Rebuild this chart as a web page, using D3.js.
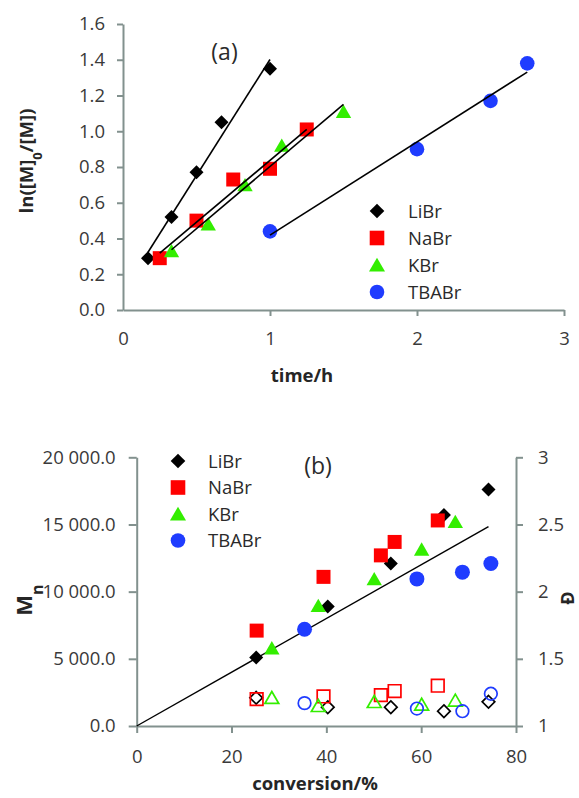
<!DOCTYPE html>
<html><head><meta charset="utf-8">
<script src="https://cdn.jsdelivr.net/npm/d3@7"></script>
<style>
html,body{margin:0;padding:0;background:#fff;}
text{font-family:"Open Sans",sans-serif;}
</style></head>
<body>
<svg id="chart" width="579" height="798"></svg>
<script>
// ---------- DATA ----------
const seriesNames = ["LiBr", "NaBr", "KBr", "TBABr"];
// (a) kinetics
const timeLiBr = [0.17, 0.33, 0.5, 0.67, 1.0];
const lnLiBr   = [0.29, 0.52, 0.77, 1.05, 1.35];
const timeNaBr = [0.25, 0.5, 0.75, 1.0, 1.25];
const lnNaBr   = [0.29, 0.50, 0.73, 0.79, 1.01];
const timeKBr  = [0.33, 0.58, 0.83, 1.08, 1.5];
const lnKBr    = [0.33, 0.48, 0.70, 0.92, 1.11];
const timeTBABr = [1.0, 2.0, 2.5, 2.75];
const lnTBABr   = [0.44, 0.90, 1.17, 1.38];
const topXTicks = [0, 1, 2, 3];
const topYTicks = [0, 0.2, 0.4, 0.6, 0.8, 1.0, 1.2, 1.4, 1.6];
// (b) Mn and dispersity vs conversion
const convLiBr = [25.2, 40.3, 53.6, 64.8, 74.2];
const mnLiBr   = [5100, 8900, 12100, 15700, 17600];
const dispLiBr = [1.21, 1.14, 1.14, 1.11, 1.18];
const convNaBr = [25.3, 39.4, 51.5, 54.4, 63.5];
const mnNaBr   = [7100, 11100, 12700, 13700, 15300];
const dispNaBr = [1.20, 1.22, 1.23, 1.26, 1.30];
const convKBr  = [28.5, 38.3, 50.1, 60.1, 67.2];
const mnKBr    = [5800, 8950, 10950, 13150, 15200];
const dispKBr  = [1.21, 1.15, 1.18, 1.16, 1.19];
const convTBABr = [35.4, 59.1, 68.7, 74.7];
const mnTBABr   = [7200, 10950, 11450, 12100];
const dispTBABr = [1.17, 1.13, 1.11, 1.24];
const theoryConv = [0, 74.2];
const theoryMn   = [0, 14840];
const botXTicks = [0, 20, 40, 60, 80];
const botYTicks = [0, 5000, 10000, 15000, 20000];
const botY2Ticks = [1, 1.5, 2, 2.5, 3];

// ---------- STYLE ----------
const colors = {LiBr:"#000000", NaBr:"#ff0000", KBr:"#33ee00", TBABr:"#1f3cff"};
const shapes = {LiBr:"diamond", NaBr:"square", KBr:"triangle", TBABr:"circle"};
const axisColor = "#82918e";
const tickColor = "#3a3a3a";

function markerPath(shape, s){
  switch(shape){
    case "diamond": return `M0,${-s}L${s},0L0,${s}L${-s},0Z`;
    case "square": return `M${-s},${-s}H${s}V${s}H${-s}Z`;
    case "triangle": return `M0,${-s}L${s*1.1},${s*0.9}L${-s*1.1},${s*0.9}Z`;
    default: return `M${s},0A${s},${s} 0 1,1 ${-s},0A${s},${s} 0 1,1 ${s},0Z`;
  }
}
function regression(xs, ys){
  const mx = d3.mean(xs), my = d3.mean(ys);
  let sxx=0, sxy=0;
  xs.forEach((x,i)=>{ sxx += (x-mx)*(x-mx); sxy += (x-mx)*(ys[i]-my); });
  const b = sxy/sxx, a = my - b*mx;
  const x0 = d3.min(xs), x1 = d3.max(xs);
  return [[x0, a+b*x0],[x1, a+b*x1]];
}

const svg = d3.select("#chart");

function styleAxis(g, fontSize){
  g.select(".domain").attr("stroke", axisColor).attr("stroke-width", 2);
  g.selectAll(".tick line").attr("stroke", axisColor).attr("stroke-width", 2);
  g.selectAll(".tick text").attr("fill", tickColor).style("font-size", fontSize+"px")
    .style("font-family", "'Open Sans', sans-serif");
}

// ================= (a) =================
const xA = d3.scaleLinear().domain([0,3]).range([123,564]);
const yA = d3.scaleLinear().domain([0,1.6]).range([310,24]);

const gA = svg.append("g");
const axAy = gA.append("g").attr("transform",`translate(${xA(0)},0)`)
  .call(d3.axisLeft(yA).tickValues(topYTicks).tickFormat(d3.format(".1f")).tickSize(6).tickSizeOuter(0).tickPadding(12));
styleAxis(axAy, 18.5);
const axAx = gA.append("g").attr("transform",`translate(0,${yA(0)})`)
  .call(d3.axisBottom(xA).tickValues(topXTicks).tickFormat(d3.format("d")).tickSize(6).tickSizeOuter(0).tickPadding(16));
styleAxis(axAx, 18.5);
axAx.selectAll(".tick").filter(d=>d===0).select("line").remove();

const topData = {
  LiBr: [timeLiBr, lnLiBr], NaBr: [timeNaBr, lnNaBr],
  KBr: [timeKBr, lnKBr], TBABr: [timeTBABr, lnTBABr]
};
seriesNames.forEach(name=>{
  const [xs, ys] = topData[name];
  gA.append("g").selectAll("path").data(xs.map((x,i)=>[x,ys[i]])).join("path")
    .attr("transform", d=>`translate(${xA(d[0])},${yA(d[1])})`)
    .attr("d", markerPath(shapes[name], shapes[name]==="circle"?7.3:7))
    .attr("fill", colors[name]);
});
const lineA = d3.line().x(d=>xA(d[0])).y(d=>yA(d[1]));
seriesNames.forEach(name=>{
  const [xs, ys] = topData[name];
  gA.append("path").attr("d", lineA(regression(xs, ys)))
    .attr("stroke","#000").attr("stroke-width",1.6).attr("fill","none");
});

gA.append("text").attr("x",224.5).attr("y",60).attr("text-anchor","middle")
  .style("font-size","23px").attr("fill","#2a2a2a").text("(a)");

// y title
const tA = gA.append("text").attr("transform","translate(33,161) rotate(-90)")
  .attr("text-anchor","middle").style("font-size","18.5px").style("font-weight","bold").attr("fill","#262626");
tA.append("tspan").text("ln([M]");
tA.append("tspan").attr("baseline-shift","sub").style("font-size","13px").text("0");
tA.append("tspan").text("/[M])");
gA.append("text").attr("x",302).attr("y",382).attr("text-anchor","middle")
  .style("font-size","18.5px").style("font-weight","bold").attr("fill","#262626").text("time/h");

// legend (a)
const legA = gA.append("g");
seriesNames.forEach((name,i)=>{
  const y = 211 + i*27;
  legA.append("path").attr("transform",`translate(377,${y})`)
    .attr("d", markerPath(shapes[name], 7.3)).attr("fill", colors[name]);
  legA.append("text").attr("x",408).attr("y",y).attr("dy","0.36em")
    .style("font-size","18.5px").attr("fill","#2a2a2a").text(name);
});

// ================= (b) =================
const xB = d3.scaleLinear().domain([0,80]).range([136.7,516]);
const yB = d3.scaleLinear().domain([0,20000]).range([726,457.3]);
const yD = d3.scaleLinear().domain([1,3]).range([726,457.3]);
const locale = d3.formatLocale({decimal:".", thousands:"\u00a0", grouping:[3], currency:["",""]});
const fmtMn = locale.format(",.1f");

const gB = svg.append("g");
const axBy = gB.append("g").attr("transform",`translate(${xB(0)},0)`)
  .call(d3.axisLeft(yB).tickValues(botYTicks).tickFormat(fmtMn).tickSize(8).tickSizeOuter(0).tickPadding(13));
styleAxis(axBy, 18.5);
const axBy2 = gB.append("g").attr("transform",`translate(${xB(80)},0)`)
  .call(d3.axisRight(yD).tickValues(botY2Ticks).tickFormat(d=>String(d)).tickSize(7).tickSizeOuter(0).tickPadding(15));
styleAxis(axBy2, 18.5);
const axBx = gB.append("g").attr("transform",`translate(0,${yB(0)})`)
  .call(d3.axisBottom(xB).tickValues(botXTicks).tickFormat(d3.format("d")).tickSize(7).tickSizeOuter(0).tickPadding(17));
styleAxis(axBx, 18.5);

// theory line
const lineB = d3.line().x(d=>xB(d[0])).y(d=>yB(d[1]));
gB.append("path").attr("d", lineB(theoryConv.map((c,i)=>[c, theoryMn[i]])))
  .attr("stroke","#000").attr("stroke-width",1.4).attr("fill","none");

const botData = {
  LiBr: [convLiBr, mnLiBr, dispLiBr], NaBr: [convNaBr, mnNaBr, dispNaBr],
  KBr: [convKBr, mnKBr, dispKBr], TBABr: [convTBABr, mnTBABr, dispTBABr]
};
seriesNames.forEach(name=>{
  const [xs, ms] = botData[name];
  gB.append("g").selectAll("path").data(xs.map((x,i)=>[x,ms[i]])).join("path")
    .attr("transform", d=>`translate(${xB(d[0])},${yB(d[1])})`)
    .attr("d", markerPath(shapes[name], shapes[name]==="circle"?7.5:7))
    .attr("fill", colors[name]);
});
seriesNames.forEach(name=>{
  const [xs, , ds] = botData[name];
  gB.append("g").selectAll("path").data(xs.map((x,i)=>[x,ds[i]])).join("path")
    .attr("transform", d=>`translate(${xB(d[0])},${yD(d[1])})`)
    .attr("d", markerPath(shapes[name], 6.3))
    .attr("fill", "none").attr("stroke", colors[name]).attr("stroke-width", 1.7);
});

gB.append("text").attr("x",318).attr("y",474).attr("text-anchor","middle")
  .style("font-size","23px").attr("fill","#2a2a2a").text("(b)");

// y titles
const tB = gB.append("text").attr("transform","translate(32,600) rotate(-90)")
  .attr("text-anchor","middle").style("font-size","22px").style("font-weight","bold").attr("fill","#262626");
tB.append("tspan").text("M");
tB.append("tspan").attr("baseline-shift","sub").style("font-size","16px").text("n");
gB.append("text").attr("transform","translate(574,598) rotate(-90)")
  .attr("text-anchor","middle").style("font-size","18px").style("font-weight","bold").attr("fill","#262626").text("Đ");
gB.append("text").attr("x",315).attr("y",790).attr("text-anchor","middle")
  .style("font-size","18.5px").style("font-weight","bold").attr("fill","#262626").text("conversion/%");

// legend (b)
const legB = gB.append("g");
seriesNames.forEach((name,i)=>{
  const y = 461 + i*26.5;
  legB.append("path").attr("transform",`translate(178,${y})`)
    .attr("d", markerPath(shapes[name], 7.3)).attr("fill", colors[name]);
  legB.append("text").attr("x",208).attr("y",y).attr("dy","0.36em")
    .style("font-size","18.5px").attr("fill","#2a2a2a").text(name);
});
</script>
</body></html>
